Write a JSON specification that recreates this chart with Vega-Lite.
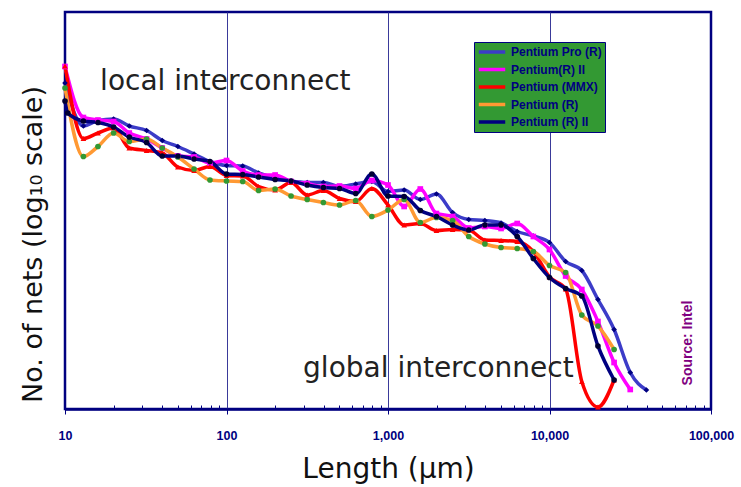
{
  "$schema": "https://vega.github.io/schema/vega-lite/v6.json",
  "width": 646,
  "height": 397,
  "autosize": {"type": "none"},
  "padding": {"left": 65, "top": 12, "right": 30, "bottom": 78},
  "background": "white",
  "config": {"view": {"stroke": "#000080", "strokeWidth": 2.5}},
  "resolve": {"scale": {"shape": "independent", "fill": "independent"}, "legend": {"shape": "independent", "fill": "independent"}},
  "datasets": {
    "chips": [
      {"chip": "Pentium Pro (R)", "len": 10, "v": 6.52},
      {"chip": "Pentium Pro (R)", "len": 13, "v": 5.66},
      {"chip": "Pentium Pro (R)", "len": 16, "v": 5.77},
      {"chip": "Pentium Pro (R)", "len": 20, "v": 5.80},
      {"chip": "Pentium Pro (R)", "len": 25, "v": 5.66},
      {"chip": "Pentium Pro (R)", "len": 32, "v": 5.57},
      {"chip": "Pentium Pro (R)", "len": 40, "v": 5.37},
      {"chip": "Pentium Pro (R)", "len": 50, "v": 5.25},
      {"chip": "Pentium Pro (R)", "len": 63, "v": 5.10},
      {"chip": "Pentium Pro (R)", "len": 79, "v": 4.95},
      {"chip": "Pentium Pro (R)", "len": 100, "v": 4.87},
      {"chip": "Pentium Pro (R)", "len": 126, "v": 4.86},
      {"chip": "Pentium Pro (R)", "len": 158, "v": 4.72},
      {"chip": "Pentium Pro (R)", "len": 200, "v": 4.62},
      {"chip": "Pentium Pro (R)", "len": 251, "v": 4.56},
      {"chip": "Pentium Pro (R)", "len": 316, "v": 4.53},
      {"chip": "Pentium Pro (R)", "len": 398, "v": 4.53},
      {"chip": "Pentium Pro (R)", "len": 501, "v": 4.45},
      {"chip": "Pentium Pro (R)", "len": 631, "v": 4.50},
      {"chip": "Pentium Pro (R)", "len": 794, "v": 4.55},
      {"chip": "Pentium Pro (R)", "len": 1000, "v": 4.35},
      {"chip": "Pentium Pro (R)", "len": 1259, "v": 4.38},
      {"chip": "Pentium Pro (R)", "len": 1585, "v": 4.19},
      {"chip": "Pentium Pro (R)", "len": 1995, "v": 4.30},
      {"chip": "Pentium Pro (R)", "len": 2512, "v": 3.93},
      {"chip": "Pentium Pro (R)", "len": 3162, "v": 3.79},
      {"chip": "Pentium Pro (R)", "len": 3981, "v": 3.77},
      {"chip": "Pentium Pro (R)", "len": 5012, "v": 3.72},
      {"chip": "Pentium Pro (R)", "len": 6310, "v": 3.55},
      {"chip": "Pentium Pro (R)", "len": 7943, "v": 3.46},
      {"chip": "Pentium Pro (R)", "len": 10000, "v": 3.33},
      {"chip": "Pentium Pro (R)", "len": 12589, "v": 2.95},
      {"chip": "Pentium Pro (R)", "len": 15849, "v": 2.77},
      {"chip": "Pentium Pro (R)", "len": 19953, "v": 2.19},
      {"chip": "Pentium Pro (R)", "len": 25119, "v": 1.59},
      {"chip": "Pentium Pro (R)", "len": 31623, "v": 0.73},
      {"chip": "Pentium Pro (R)", "len": 39811, "v": 0.38},

      {"chip": "Pentium(R) II", "len": 10, "v": 6.85},
      {"chip": "Pentium(R) II", "len": 13, "v": 5.83},
      {"chip": "Pentium(R) II", "len": 16, "v": 5.78},
      {"chip": "Pentium(R) II", "len": 20, "v": 5.75},
      {"chip": "Pentium(R) II", "len": 25, "v": 5.52},
      {"chip": "Pentium(R) II", "len": 32, "v": 5.40},
      {"chip": "Pentium(R) II", "len": 40, "v": 5.22},
      {"chip": "Pentium(R) II", "len": 50, "v": 5.06},
      {"chip": "Pentium(R) II", "len": 63, "v": 5.04},
      {"chip": "Pentium(R) II", "len": 79, "v": 4.92},
      {"chip": "Pentium(R) II", "len": 100, "v": 4.97},
      {"chip": "Pentium(R) II", "len": 126, "v": 4.76},
      {"chip": "Pentium(R) II", "len": 158, "v": 4.68},
      {"chip": "Pentium(R) II", "len": 200, "v": 4.68},
      {"chip": "Pentium(R) II", "len": 251, "v": 4.55},
      {"chip": "Pentium(R) II", "len": 316, "v": 4.51},
      {"chip": "Pentium(R) II", "len": 398, "v": 4.45},
      {"chip": "Pentium(R) II", "len": 501, "v": 4.46},
      {"chip": "Pentium(R) II", "len": 631, "v": 4.41},
      {"chip": "Pentium(R) II", "len": 794, "v": 4.57},
      {"chip": "Pentium(R) II", "len": 1000, "v": 4.48},
      {"chip": "Pentium(R) II", "len": 1259, "v": 4.05},
      {"chip": "Pentium(R) II", "len": 1585, "v": 4.40},
      {"chip": "Pentium(R) II", "len": 1995, "v": 3.91},
      {"chip": "Pentium(R) II", "len": 2512, "v": 3.85},
      {"chip": "Pentium(R) II", "len": 3162, "v": 3.62},
      {"chip": "Pentium(R) II", "len": 3981, "v": 3.65},
      {"chip": "Pentium(R) II", "len": 5012, "v": 3.61},
      {"chip": "Pentium(R) II", "len": 6310, "v": 3.71},
      {"chip": "Pentium(R) II", "len": 7943, "v": 3.45},
      {"chip": "Pentium(R) II", "len": 10000, "v": 3.19},
      {"chip": "Pentium(R) II", "len": 12589, "v": 2.66},
      {"chip": "Pentium(R) II", "len": 15849, "v": 2.39},
      {"chip": "Pentium(R) II", "len": 19953, "v": 1.75},
      {"chip": "Pentium(R) II", "len": 25119, "v": 0.93},
      {"chip": "Pentium(R) II", "len": 31623, "v": 0.39},

      {"chip": "Pentium (MMX)", "len": 10, "v": 6.86},
      {"chip": "Pentium (MMX)", "len": 13, "v": 5.41},
      {"chip": "Pentium (MMX)", "len": 16, "v": 5.52},
      {"chip": "Pentium (MMX)", "len": 20, "v": 5.62},
      {"chip": "Pentium (MMX)", "len": 25, "v": 5.22},
      {"chip": "Pentium (MMX)", "len": 32, "v": 5.17},
      {"chip": "Pentium (MMX)", "len": 40, "v": 5.12},
      {"chip": "Pentium (MMX)", "len": 50, "v": 4.84},
      {"chip": "Pentium (MMX)", "len": 63, "v": 4.77},
      {"chip": "Pentium (MMX)", "len": 79, "v": 4.85},
      {"chip": "Pentium (MMX)", "len": 100, "v": 4.67},
      {"chip": "Pentium (MMX)", "len": 126, "v": 4.66},
      {"chip": "Pentium (MMX)", "len": 158, "v": 4.45},
      {"chip": "Pentium (MMX)", "len": 200, "v": 4.38},
      {"chip": "Pentium (MMX)", "len": 251, "v": 4.53},
      {"chip": "Pentium (MMX)", "len": 316, "v": 4.28},
      {"chip": "Pentium (MMX)", "len": 398, "v": 4.37},
      {"chip": "Pentium (MMX)", "len": 501, "v": 4.21},
      {"chip": "Pentium (MMX)", "len": 631, "v": 4.15},
      {"chip": "Pentium (MMX)", "len": 794, "v": 4.41},
      {"chip": "Pentium (MMX)", "len": 1000, "v": 4.08},
      {"chip": "Pentium (MMX)", "len": 1259, "v": 3.68},
      {"chip": "Pentium (MMX)", "len": 1585, "v": 3.71},
      {"chip": "Pentium (MMX)", "len": 1995, "v": 3.57},
      {"chip": "Pentium (MMX)", "len": 2512, "v": 3.59},
      {"chip": "Pentium (MMX)", "len": 3162, "v": 3.58},
      {"chip": "Pentium (MMX)", "len": 3981, "v": 3.38},
      {"chip": "Pentium (MMX)", "len": 5012, "v": 3.37},
      {"chip": "Pentium (MMX)", "len": 6310, "v": 3.35},
      {"chip": "Pentium (MMX)", "len": 7943, "v": 3.15},
      {"chip": "Pentium (MMX)", "len": 10000, "v": 2.64},
      {"chip": "Pentium (MMX)", "len": 12589, "v": 2.40},
      {"chip": "Pentium (MMX)", "len": 15849, "v": 0.55},
      {"chip": "Pentium (MMX)", "len": 19953, "v": 0.04},
      {"chip": "Pentium (MMX)", "len": 25119, "v": 0.58},

      {"chip": "Pentium (R)", "len": 10, "v": 6.42},
      {"chip": "Pentium (R)", "len": 13, "v": 5.05},
      {"chip": "Pentium (R)", "len": 16, "v": 5.25},
      {"chip": "Pentium (R)", "len": 20, "v": 5.52},
      {"chip": "Pentium (R)", "len": 25, "v": 5.35},
      {"chip": "Pentium (R)", "len": 32, "v": 5.40},
      {"chip": "Pentium (R)", "len": 40, "v": 5.22},
      {"chip": "Pentium (R)", "len": 50, "v": 5.04},
      {"chip": "Pentium (R)", "len": 63, "v": 4.80},
      {"chip": "Pentium (R)", "len": 79, "v": 4.58},
      {"chip": "Pentium (R)", "len": 100, "v": 4.56},
      {"chip": "Pentium (R)", "len": 126, "v": 4.55},
      {"chip": "Pentium (R)", "len": 158, "v": 4.37},
      {"chip": "Pentium (R)", "len": 200, "v": 4.40},
      {"chip": "Pentium (R)", "len": 251, "v": 4.26},
      {"chip": "Pentium (R)", "len": 316, "v": 4.19},
      {"chip": "Pentium (R)", "len": 398, "v": 4.13},
      {"chip": "Pentium (R)", "len": 501, "v": 4.08},
      {"chip": "Pentium (R)", "len": 631, "v": 4.17},
      {"chip": "Pentium (R)", "len": 794, "v": 3.85},
      {"chip": "Pentium (R)", "len": 1000, "v": 3.98},
      {"chip": "Pentium (R)", "len": 1259, "v": 4.19},
      {"chip": "Pentium (R)", "len": 1585, "v": 3.73},
      {"chip": "Pentium (R)", "len": 1995, "v": 3.83},
      {"chip": "Pentium (R)", "len": 2512, "v": 3.77},
      {"chip": "Pentium (R)", "len": 3162, "v": 3.45},
      {"chip": "Pentium (R)", "len": 3981, "v": 3.30},
      {"chip": "Pentium (R)", "len": 5012, "v": 3.23},
      {"chip": "Pentium (R)", "len": 6310, "v": 3.21},
      {"chip": "Pentium (R)", "len": 7943, "v": 3.15},
      {"chip": "Pentium (R)", "len": 10000, "v": 2.87},
      {"chip": "Pentium (R)", "len": 12589, "v": 2.73},
      {"chip": "Pentium (R)", "len": 15849, "v": 1.88},
      {"chip": "Pentium (R)", "len": 19953, "v": 1.66},
      {"chip": "Pentium (R)", "len": 25119, "v": 1.19},

      {"chip": "Pentium (R) II", "len": 10, "v": 6.16},
      {"chip": "Pentium (R) II", "len": 10.4, "v": 5.92},
      {"chip": "Pentium (R) II", "len": 13, "v": 5.76},
      {"chip": "Pentium (R) II", "len": 16, "v": 5.73},
      {"chip": "Pentium (R) II", "len": 20, "v": 5.64},
      {"chip": "Pentium (R) II", "len": 25, "v": 5.44},
      {"chip": "Pentium (R) II", "len": 32, "v": 5.33},
      {"chip": "Pentium (R) II", "len": 40, "v": 5.06},
      {"chip": "Pentium (R) II", "len": 50, "v": 5.06},
      {"chip": "Pentium (R) II", "len": 63, "v": 5.00},
      {"chip": "Pentium (R) II", "len": 79, "v": 4.95},
      {"chip": "Pentium (R) II", "len": 100, "v": 4.70},
      {"chip": "Pentium (R) II", "len": 126, "v": 4.69},
      {"chip": "Pentium (R) II", "len": 158, "v": 4.64},
      {"chip": "Pentium (R) II", "len": 200, "v": 4.59},
      {"chip": "Pentium (R) II", "len": 251, "v": 4.56},
      {"chip": "Pentium (R) II", "len": 316, "v": 4.48},
      {"chip": "Pentium (R) II", "len": 398, "v": 4.43},
      {"chip": "Pentium (R) II", "len": 501, "v": 4.41},
      {"chip": "Pentium (R) II", "len": 631, "v": 4.31},
      {"chip": "Pentium (R) II", "len": 794, "v": 4.70},
      {"chip": "Pentium (R) II", "len": 1000, "v": 4.26},
      {"chip": "Pentium (R) II", "len": 1259, "v": 4.25},
      {"chip": "Pentium (R) II", "len": 1585, "v": 3.97},
      {"chip": "Pentium (R) II", "len": 1995, "v": 3.85},
      {"chip": "Pentium (R) II", "len": 2512, "v": 3.68},
      {"chip": "Pentium (R) II", "len": 3162, "v": 3.58},
      {"chip": "Pentium (R) II", "len": 3981, "v": 3.68},
      {"chip": "Pentium (R) II", "len": 5012, "v": 3.68},
      {"chip": "Pentium (R) II", "len": 6310, "v": 3.45},
      {"chip": "Pentium (R) II", "len": 7943, "v": 3.01},
      {"chip": "Pentium (R) II", "len": 10000, "v": 2.63},
      {"chip": "Pentium (R) II", "len": 12589, "v": 2.41},
      {"chip": "Pentium (R) II", "len": 15849, "v": 2.26},
      {"chip": "Pentium (R) II", "len": 19953, "v": 1.26},
      {"chip": "Pentium (R) II", "len": 25119, "v": 0.58}
    ],
    "notes": [
      {"label": "local interconnect", "len": 16.5, "v": 6.39},
      {"label": "global interconnect", "len": 298, "v": 0.64}
    ],
    "source": [
      {"label": "Source: Intel", "len": 72100, "v": 1.32}
    ]
  },
  "layer": [
    {
      "data": {"name": "chips"},
      "mark": {"type": "line", "interpolate": "monotone", "strokeWidth": 3.5},
      "encoding": {
        "x": {
          "field": "len", "type": "quantitative",
          "scale": {"type": "log", "domain": [10, 100000], "nice": false},
          "axis": {
            "values": [10,20,30,40,50,60,70,80,90,100,200,300,400,500,600,700,800,900,1000,2000,3000,4000,5000,6000,7000,8000,9000,10000,20000,30000,40000,50000,60000,70000,80000,90000,100000],
            "labelExpr": "indexof([10,100,1000,10000,100000], datum.value) >= 0 ? format(datum.value, ',') : ''",
            "labelOverlap": false,
            "labelFlush": false,
            "labelFont": "Liberation Sans",
            "labelFontWeight": "bold",
            "labelFontSize": 12.5,
            "labelColor": "#000080",
            "labelPadding": 15,
            "domainColor": "#000080",
            "domainWidth": 2.5,
            "tickColor": "#000080",
            "tickWidth": 1,
            "tickSize": {"condition": {"test": "indexof([10,100,1000,10000,100000], datum.value) >= 0", "value": 5}, "value": -4},
            "grid": true,
            "gridColor": {"condition": {"test": "indexof([100,1000,10000], datum.value) >= 0", "value": "#3a3a9a"}, "value": "transparent"},
            "gridWidth": 1,
            "title": "Length (μm)",
            "titleFont": "DejaVu Sans",
            "titleFontSize": 28,
            "titleFontWeight": "normal",
            "titleColor": "#111111",
            "titleBaseline": "alphabetic",
            "titleY": 68
          }
        },
        "y": {
          "field": "v", "type": "quantitative",
          "scale": {"domain": [0, 7.94], "nice": false, "zero": false},
          "axis": {
            "title": "No. of nets (log₁₀ scale)",
            "ticks": false, "labels": false, "domain": false, "grid": false,
            "titleFont": "DejaVu Sans",
            "titleFontSize": 27,
            "titleFontWeight": "normal",
            "titleColor": "#111111",
            "titleAngle": 270,
            "titleAlign": "center",
            "titleBaseline": "middle",
            "titleX": -32,
            "titleY": 232
          }
        },
        "stroke": {
          "field": "chip", "type": "nominal",
          "scale": {
            "domain": ["Pentium Pro (R)", "Pentium(R) II", "Pentium (MMX)", "Pentium (R)", "Pentium (R) II"],
            "range": ["#3c3cc8", "#ff00ff", "#ff0000", "#ff9933", "#000080"]
          },
          "legend": {
            "title": null,
            "orient": "none",
            "legendX": 409,
            "legendY": 30,
            "direction": "vertical",
            "fillColor": "#339933",
            "strokeColor": "#000080",
            "padding": 3,
            "symbolType": "stroke",
            "symbolSize": 700,
            "symbolStrokeWidth": 3.5,
            "labelFont": "Liberation Sans",
            "labelFontWeight": "bold",
            "labelFontSize": 12,
            "labelColor": "#000080",
            "labelOffset": 4,
            "rowPadding": 3.5,
            "clipHeight": 14
          }
        }
      }
    },
    {
      "data": {"name": "chips"},
      "mark": {"type": "point", "filled": true, "size": 32, "strokeWidth": 0, "opacity": 1},
      "encoding": {
        "x": {"field": "len", "type": "quantitative"},
        "y": {"field": "v", "type": "quantitative"},
        "fill": {
          "field": "chip", "type": "nominal",
          "scale": {
            "domain": ["Pentium Pro (R)", "Pentium(R) II", "Pentium (MMX)", "Pentium (R)", "Pentium (R) II"],
            "range": ["#000080", "#ff00ff", "#ff0000", "#339933", "#000033"]
          },
          "legend": null
        },
        "shape": {
          "field": "chip", "type": "nominal",
          "scale": {
            "domain": ["Pentium Pro (R)", "Pentium(R) II", "Pentium (MMX)", "Pentium (R)", "Pentium (R) II"],
            "range": ["diamond", "square", "triangle-up", "circle", "circle"]
          },
          "legend": null
        }
      }
    },
    {
      "data": {"name": "notes"},
      "mark": {"type": "text", "font": "DejaVu Sans", "fontSize": 28, "align": "left", "baseline": "alphabetic", "color": "#222222"},
      "encoding": {
        "x": {"field": "len", "type": "quantitative"},
        "y": {"field": "v", "type": "quantitative"},
        "text": {"field": "label"}
      }
    },
    {
      "data": {"name": "source"},
      "mark": {"type": "text", "font": "Liberation Sans", "fontWeight": "bold", "fontSize": 14, "angle": 270, "align": "center", "baseline": "middle", "color": "#800080"},
      "encoding": {
        "x": {"field": "len", "type": "quantitative"},
        "y": {"field": "v", "type": "quantitative"},
        "text": {"field": "label"}
      }
    }
  ]
}
